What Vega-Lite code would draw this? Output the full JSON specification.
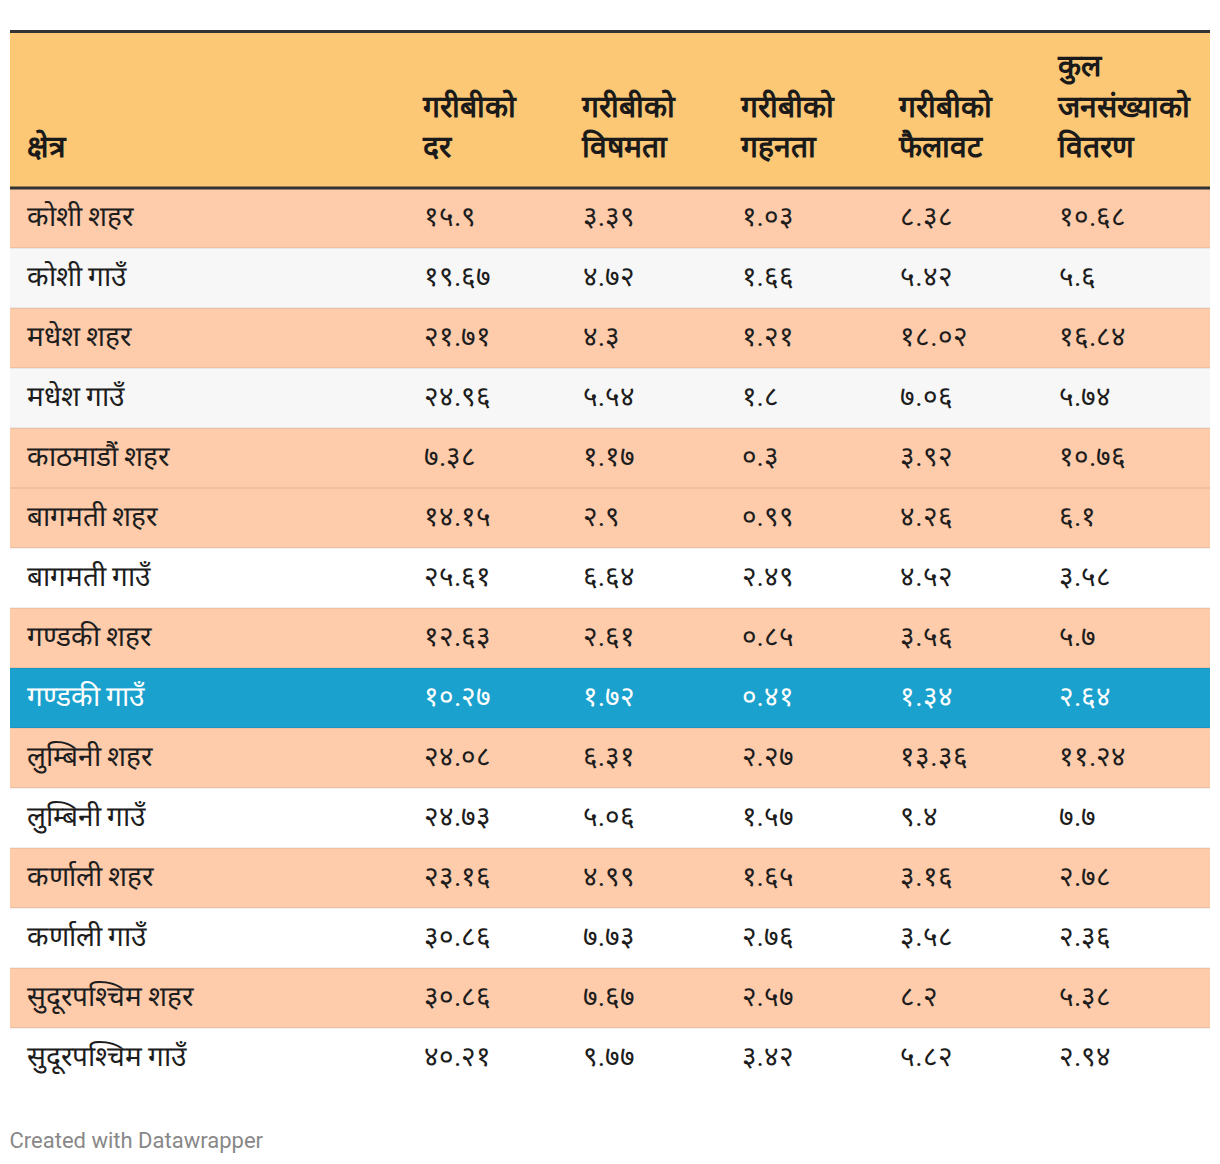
{
  "$schema": "https://vega.github.io/schema/vega-lite/v6.json",
  "padding": {"left": 8, "right": 12, "top": 30, "bottom": 10},
  "background": "white",
  "spacing": 0,
  "bounds": "flush",
  "title": {"text": "Created with Datawrapper", "orient": "bottom", "anchor": "start", "fontSize": 22, "fontWeight": "normal", "color": "#888888", "font": "Roboto", "offset": 43, "dx": 1},
  "config": {
    "view": {"stroke": null},
    "font": "Roboto",
    "axis": {"grid": false, "ticks": false, "tickSize": 0, "title": null, "zindex": 1}
  },
  "vconcat": [
    {
      "width": 1200,
      "height": 3,
      "view": {"fill": "#333333", "stroke": null},
      "data": {"values": [{"border": "top"}]},
      "mark": {"type": "rect", "color": "#333333"},
      "encoding": {}
    },
    {
      "width": 1200,
      "height": 155,
      "view": {"fill": "#fdc876", "stroke": null},
      "data": {"values": [
        {"key": "दर", "line": 2, "text": "गरीबीको"},
        {"key": "दर", "line": 1, "text": "दर"},
        {"key": "विषमता", "line": 2, "text": "गरीबीको"},
        {"key": "विषमता", "line": 1, "text": "विषमता"},
        {"key": "गहनता", "line": 2, "text": "गरीबीको"},
        {"key": "गहनता", "line": 1, "text": "गहनता"},
        {"key": "फैलावट", "line": 2, "text": "गरीबीको"},
        {"key": "फैलावट", "line": 1, "text": "फैलावट"},
        {"key": "वितरण", "line": 3, "text": "कुल"},
        {"key": "वितरण", "line": 2, "text": "जनसंख्याको"},
        {"key": "वितरण", "line": 1, "text": "वितरण"}
      ]},
      "mark": {"type": "text", "align": "left", "baseline": "middle", "fontSize": 30, "fontWeight": "bold", "color": "#1a1a1a"},
      "encoding": {
        "y": {"field": "line", "type": "ordinal",
          "scale": {"type": "band", "domain": [3, 2, 1], "paddingInner": 0, "paddingOuter": 0.4136, "align": 0.425},
          "axis": {"orient": "left", "domain": false, "labelAlign": "left", "labelPadding": -16, "labelBaseline": "middle", "labelFontSize": 30, "labelFontWeight": "bold", "labelColor": "#1a1a1a", "zindex": 1,
            "labelExpr": "datum.value == 1 ? 'क्षेत्र' : ''"}},
        "x": {"field": "key", "type": "nominal",
          "scale": {"type": "point", "domain": ["दर", "विषमता", "गहनता", "फैलावट", "वितरण"], "range": [413, 1048], "padding": 0},
          "axis": null},
        "text": {"field": "text"}
      }
    },
    {
      "width": 1200,
      "height": 900,
      "data": {"values": [
        {"row": 1, "region": "कोशी शहर", "दर": "१५.९", "विषमता": "३.३९", "गहनता": "१.०३", "फैलावट": "८.३८", "वितरण": "१०.६८"},
        {"row": 2, "region": "कोशी गाउँ", "दर": "१९.६७", "विषमता": "४.७२", "गहनता": "१.६६", "फैलावट": "५.४२", "वितरण": "५.६"},
        {"row": 3, "region": "मधेश शहर", "दर": "२१.७१", "विषमता": "४.३", "गहनता": "१.२१", "फैलावट": "१८.०२", "वितरण": "१६.८४"},
        {"row": 4, "region": "मधेश गाउँ", "दर": "२४.९६", "विषमता": "५.५४", "गहनता": "१.८", "फैलावट": "७.०६", "वितरण": "५.७४"},
        {"row": 5, "region": "काठमाडौं शहर", "दर": "७.३८", "विषमता": "१.१७", "गहनता": "०.३", "फैलावट": "३.९२", "वितरण": "१०.७६"},
        {"row": 6, "region": "बागमती शहर", "दर": "१४.१५", "विषमता": "२.९", "गहनता": "०.९९", "फैलावट": "४.२६", "वितरण": "६.१"},
        {"row": 7, "region": "बागमती गाउँ", "दर": "२५.६१", "विषमता": "६.६४", "गहनता": "२.४९", "फैलावट": "४.५२", "वितरण": "३.५८"},
        {"row": 8, "region": "गण्डकी शहर", "दर": "१२.६३", "विषमता": "२.६१", "गहनता": "०.८५", "फैलावट": "३.५६", "वितरण": "५.७"},
        {"row": 9, "region": "गण्डकी गाउँ", "दर": "१०.२७", "विषमता": "१.७२", "गहनता": "०.४१", "फैलावट": "१.३४", "वितरण": "२.६४"},
        {"row": 10, "region": "लुम्बिनी शहर", "दर": "२४.०८", "विषमता": "६.३१", "गहनता": "२.२७", "फैलावट": "१३.३६", "वितरण": "११.२४"},
        {"row": 11, "region": "लुम्बिनी गाउँ", "दर": "२४.७३", "विषमता": "५.०६", "गहनता": "१.५७", "फैलावट": "९.४", "वितरण": "७.७"},
        {"row": 12, "region": "कर्णाली शहर", "दर": "२३.१६", "विषमता": "४.९९", "गहनता": "१.६५", "फैलावट": "३.१६", "वितरण": "२.७८"},
        {"row": 13, "region": "कर्णाली गाउँ", "दर": "३०.८६", "विषमता": "७.७३", "गहनता": "२.७६", "फैलावट": "३.५८", "वितरण": "२.३६"},
        {"row": 14, "region": "सुदूरपश्चिम शहर", "दर": "३०.८६", "विषमता": "७.६७", "गहनता": "२.५७", "फैलावट": "८.२", "वितरण": "५.३८"},
        {"row": 15, "region": "सुदूरपश्चिम गाउँ", "दर": "४०.२१", "विषमता": "९.७७", "गहनता": "३.४२", "फैलावट": "५.८२", "वितरण": "२.९४"}
      ]},
      "encoding": {
        "y": {"field": "region", "type": "nominal",
          "scale": {"type": "band", "paddingInner": 0, "paddingOuter": 0,
            "domain": ["कोशी शहर", "कोशी गाउँ", "मधेश शहर", "मधेश गाउँ", "काठमाडौं शहर", "बागमती शहर", "बागमती गाउँ", "गण्डकी शहर", "गण्डकी गाउँ", "लुम्बिनी शहर", "लुम्बिनी गाउँ", "कर्णाली शहर", "कर्णाली गाउँ", "सुदूरपश्चिम शहर", "सुदूरपश्चिम गाउँ"]},
          "axis": {"orient": "left", "domain": false, "labelAlign": "left", "labelPadding": -16, "labelBaseline": "middle", "labelFontSize": 28, "labelLimit": 600, "zindex": 1,
            "labelColor": {"condition": {"test": "datum.value === 'गण्डकी गाउँ'", "value": "#ffffff"}, "value": "#1d1d1d"}}}
      },
      "layer": [
        {
          "mark": {"type": "rect"},
          "encoding": {
            "color": {"condition": [
              {"test": "datum.region === 'गण्डकी गाउँ'", "value": "#1ba1cd"},
              {"test": "indexof(datum.region, 'शहर') >= 0", "value": "#fecbab"},
              {"test": "datum.row % 2 === 0", "value": "#f7f7f7"}
            ], "value": "#ffffff"}
          }
        },
        {
          "transform": [{"filter": "datum.row > 1"}],
          "mark": {"type": "rule", "strokeWidth": 2, "color": "#000000", "opacity": 0.06},
          "encoding": {"y": {"field": "region", "type": "nominal", "bandPosition": 0}}
        },
        {
          "transform": [{"filter": "datum.row == 1"}],
          "mark": {"type": "rule", "strokeWidth": 3, "color": "#333333"},
          "encoding": {"y": {"field": "region", "type": "nominal", "bandPosition": 0}}
        },
        {
          "transform": [{"fold": ["दर", "विषमता", "गहनता", "फैलावट", "वितरण"], "as": ["key", "val"]}],
          "mark": {"type": "text", "align": "left", "baseline": "middle", "fontSize": 28, "dx": 1},
          "encoding": {
            "x": {"field": "key", "type": "nominal",
              "scale": {"type": "point", "domain": ["दर", "विषमता", "गहनता", "फैलावट", "वितरण"], "range": [413, 1048], "padding": 0},
              "axis": null},
            "text": {"field": "val"},
            "color": {"condition": {"test": "datum.region === 'गण्डकी गाउँ'", "value": "#ffffff"}, "value": "#1d1d1d"}
          }
        }
      ]
    }
  ]
}
